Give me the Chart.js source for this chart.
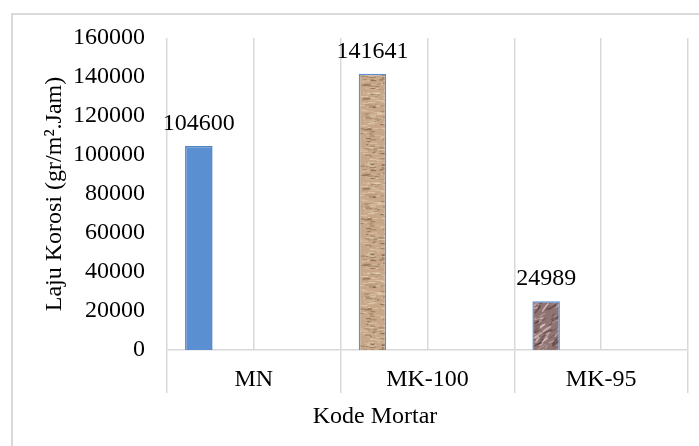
<!DOCTYPE html>
<html>
<head>
<meta charset="utf-8">
<script src="https://cdn.jsdelivr.net/npm/chart.js@4.4.1/dist/chart.umd.min.js"></script>
<style>
  html, body { margin: 0; padding: 0; background: #ffffff; overflow: hidden; width: 699px; height: 446px; }
  #frame { position: absolute; left: 11px; top: 13px; width: 800px; height: 600px; border: 2px solid #d9d9d9; }
  #chart { position: absolute; left: 0; top: 0; }
</style>
</head>
<body>
<div id="frame"></div>
<canvas id="chart" width="740" height="446"></canvas>
<script>
// Corrosion rate per mortar code
const categories = ['MN', 'MK-100', 'MK-95'];
const lajuKorosi = [104600, 141641, 24989];
const yTicks = [0, 20000, 40000, 60000, 80000, 100000, 120000, 140000, 160000];
// Unused series slots of the original workbook (keep bar grouping)
const emptySeries = [null, null, null];

const FONT = 'Liberation Serif, Times New Roman, serif';
const GRID = '#d9d9d9';

// Small deterministic generator for the bar fill textures
function lcg(seed) {
  let s = seed >>> 0;
  return () => { s = (s * 1664525 + 1013904223) >>> 0; return s / 4294967296; };
}

function sandTexture() {
  const c = document.createElement('canvas');
  c.width = 40; c.height = 90;
  const g = c.getContext('2d');
  g.fillStyle = '#c7a787';
  g.fillRect(0, 0, c.width, c.height);
  const r = lcg(17);
  for (let i = 0; i < 300; i++) {
    const x = r() * c.width, y = r() * c.height;
    const len = 2 + r() * 6;
    const dark = r() < 0.4;
    g.fillStyle = dark ? 'rgba(95,72,50,' + (0.2 + r() * 0.45) + ')'
                       : 'rgba(232,214,190,' + (0.3 + r() * 0.4) + ')';
    g.fillRect(x, y, len, 1);
  }
  return g.createPattern(c, 'repeat');
}

function mauveTexture() {
  const c = document.createElement('canvas');
  c.width = 40; c.height = 60;
  const g = c.getContext('2d');
  g.fillStyle = '#907472';
  g.fillRect(0, 0, c.width, c.height);
  const r = lcg(91);
  g.lineCap = 'round';
  for (let i = 0; i < 120; i++) {
    const x = r() * c.width, y = r() * c.height;
    const len = 3 + r() * 6;
    const ang = -1.1 + r() * 0.9;
    const light = r() < 0.55;
    g.strokeStyle = light ? 'rgba(222,202,200,' + (0.3 + r() * 0.45) + ')'
                          : 'rgba(70,50,50,' + (0.25 + r() * 0.4) + ')';
    g.lineWidth = 1 + r();
    g.beginPath();
    g.moveTo(x, y);
    g.lineTo(x + Math.cos(ang) * len, y + Math.sin(ang) * len);
    g.stroke();
  }
  return g.createPattern(c, 'repeat');
}

const barFills = ['#5a8fd2', sandTexture(), mauveTexture()];
const barBorders = ['#4f83c4', '#5b8fd2', '#5b8fd2'];

// Value labels above each bar
const valueLabels = {
  id: 'valueLabels',
  afterDatasetsDraw(chart) {
    const ctx = chart.ctx;
    const meta = chart.getDatasetMeta(0);
    ctx.save();
    ctx.font = '24px ' + FONT;
    ctx.fillStyle = '#000000';
    ctx.textAlign = 'center';
    ctx.textBaseline = 'middle';
    meta.data.forEach((bar, i) => {
      const v = chart.data.datasets[0].data[i];
      ctx.fillText(String(v), bar.x, bar.y - 22.5);
    });
    ctx.restore();
  }
};

const blank = () => ({ data: emptySeries, backgroundColor: 'transparent', borderWidth: 0 });

new Chart(document.getElementById('chart'), {
  type: 'bar',
  data: {
    labels: categories,
    datasets: [
      {
        label: 'Laju Korosi',
        data: lajuKorosi,
        backgroundColor: barFills,
        borderColor: barBorders,
        borderWidth: 1.5
      },
      blank(), blank(), blank(), blank()
    ]
  },
  options: {
    responsive: false,
    animation: false,
    devicePixelRatio: 1,
    categoryPercentage: 0.792,
    barPercentage: 1,
    layout: { autoPadding: false, padding: { left: 10, top: 38, right: 0, bottom: 0 } },
    plugins: {
      legend: { display: false },
      tooltip: { enabled: false },
      title: {
        display: true,
        position: 'bottom',
        text: 'Kode Mortar',
        color: '#000000',
        font: { family: FONT, size: 24, weight: 'normal' },
        padding: { top: 0, bottom: 14.6 }
      }
    },
    scales: {
      x: {
        type: 'category',
        position: 'bottom',
        offset: true,
        grid: { offset: true, color: GRID, lineWidth: 1.5, tickLength: 43, drawTicks: true, tickColor: GRID },
        border: { display: true, color: GRID, width: 1.5 },
        ticks: { color: '#000000', font: { family: FONT, size: 24 }, padding: -27.4, maxRotation: 0, autoSkip: false },
        afterFit(s) { s.height = 52.6; }
      },
      xMid: {
        type: 'category',
        position: 'bottom',
        offset: true,
        grid: { offset: false, color: GRID, lineWidth: 1.5, drawTicks: false },
        border: { display: false },
        ticks: { display: false },
        afterFit(s) { s.height = 0; }
      },
      y: {
        position: 'left',
        min: 0,
        max: 160000,
        afterBuildTicks(s) { s.ticks = yTicks.map(v => ({ value: v })); },
        grid: { display: false, drawTicks: false },
        border: { display: false },
        ticks: {
          color: '#000000',
          font: { family: FONT, size: 24 },
          padding: 22,
          callback: v => String(v)
        },
        title: {
          display: true,
          text: 'Laju Korosi (gr/m².Jam)',
          color: '#000000',
          font: { family: FONT, size: 24, weight: 'normal' },
          padding: { top: 30, bottom: 0 }
        },
        afterFit(s) { s.width = 157; }
      },
      yRight: {
        type: 'linear',
        position: 'right',
        grid: { display: false, drawTicks: false },
        border: { display: false },
        ticks: { display: false },
        afterFit(s) { s.width = 52; }
      }
    }
  },
  plugins: [valueLabels]
});
</script>
</body>
</html>
